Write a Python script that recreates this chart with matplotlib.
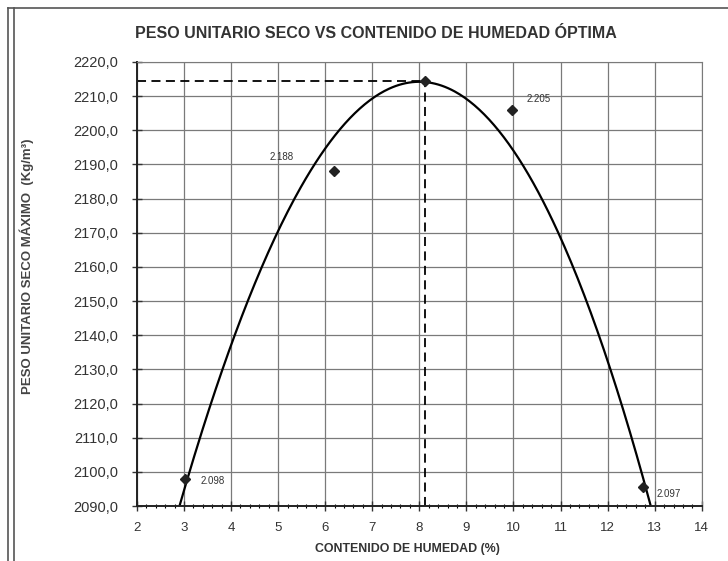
import numpy as np
import matplotlib.pyplot as plt
from matplotlib.lines import Line2D
from matplotlib.ticker import MultipleLocator, FuncFormatter

# ensayo proctor - puntos medidos
humedad = [3.02, 6.18, 9.96, 12.75]
peso = [2097.8, 2188.1, 2206.0, 2095.5]
etiquetas = ['2.098', '2.188', '2.205', '2.097']

# optimo
hum_opt = 8.11
peso_max = 2214.4

# puntos leidos sobre la linea de tendencia
curva_x = [3.02, 3.38, 3.8, 4.08, 5.31, 5.67, 7.0, 8.11, 9.86, 10.56, 12.25, 12.53, 12.89]
curva_y = [2097.8, 2109.5, 2129.4, 2138.7, 2179.6, 2188.4, 2209.0, 2214.4, 2198.0, 2179.6, 2121.2, 2109.0, 2092.0]

plt.rcParams['font.family'] = ['Liberation Sans', 'DejaVu Sans']

fig = plt.figure(figsize=(7.28, 5.61), dpi=100)
fig.patch.set_facecolor('white')
ax = fig.add_axes([0.188, 0.098, 0.776, 0.7915])

ax.set_xlim(2, 14)
ax.set_ylim(2090, 2220)
ax.xaxis.set_major_locator(MultipleLocator(1))
ax.xaxis.set_minor_locator(MultipleLocator(0.2))
ax.yaxis.set_major_locator(MultipleLocator(10))
ax.yaxis.set_major_formatter(FuncFormatter(lambda v, p: ('%.1f' % v).replace('.', ',')))

ax.grid(True, which='major', color='#7a7a7a', lw=0.9)
ax.set_axisbelow(True)

# linea de tendencia (polinomio ajustado a los puntos leidos)
coef = np.polyfit(curva_x, curva_y, 3)
xs = np.linspace(2.7, 13.1, 300)
ax.plot(xs, np.polyval(coef, xs), color='black', lw=1.6)

# lineas del optimo
ax.plot([2, hum_opt], [peso_max, peso_max], color='black', lw=1.3, ls=(0, (5, 3)))
ax.plot([hum_opt, hum_opt], [2090, peso_max], color='black', lw=1.3, ls=(0, (5, 3)))
ax.plot([hum_opt], [peso_max], 'D', color='#222222', ms=5)

ax.plot(humedad, peso, 'D', color='#222222', ms=5, ls='none')
offs = [(11, -1), (-46, 10), (11, 8), (10, -5)]
for x, y, t, o in zip(humedad, peso, etiquetas, offs):
    ax.annotate(t, (x, y), xytext=o, textcoords='offset points', fontsize=7, color='#333333', va='center')

for s in ['left', 'bottom']:
    ax.spines[s].set_color('#222222')
    ax.spines[s].set_linewidth(1.4)
for s in ['right', 'top']:
    ax.spines[s].set_color('#7a7a7a')

ax.tick_params(axis='both', which='major', direction='inout', length=7, width=1, labelsize=9.5, colors='#333333')
ax.tick_params(axis='y', which='major', labelsize=10.5, pad=10)
ax.tick_params(axis='x', which='major', pad=8)
ax.tick_params(axis='x', which='minor', direction='inout', length=3, width=0.8)

fig.text(0.516, 0.941, 'PESO UNITARIO SECO VS CONTENIDO DE HUMEDAD ÓPTIMA',
         ha='center', va='center', fontsize=11.5, fontweight='bold', color='#333333')
fig.text(0.56, 0.021, 'CONTENIDO DE HUMEDAD (%)', ha='center', va='center',
         fontsize=8.9, fontweight='bold', color='#333333')
fig.text(0.037, 0.525, 'PESO UNITARIO SECO MÁXIMO  (Kg/m³)', ha='center', va='center',
         rotation=90, fontsize=9.5, fontweight='bold', color='#444444')

# marco de la hoja escaneada
fig.add_artist(Line2D([0.011, 0.011], [0, 0.985], color='#555555', lw=1.2))
fig.add_artist(Line2D([0.019, 0.019], [0, 0.985], color='#555555', lw=1.2))
fig.add_artist(Line2D([0.011, 1.0], [0.985, 0.985], color='#555555', lw=1.2))

fig.savefig('out.png', dpi=100)
